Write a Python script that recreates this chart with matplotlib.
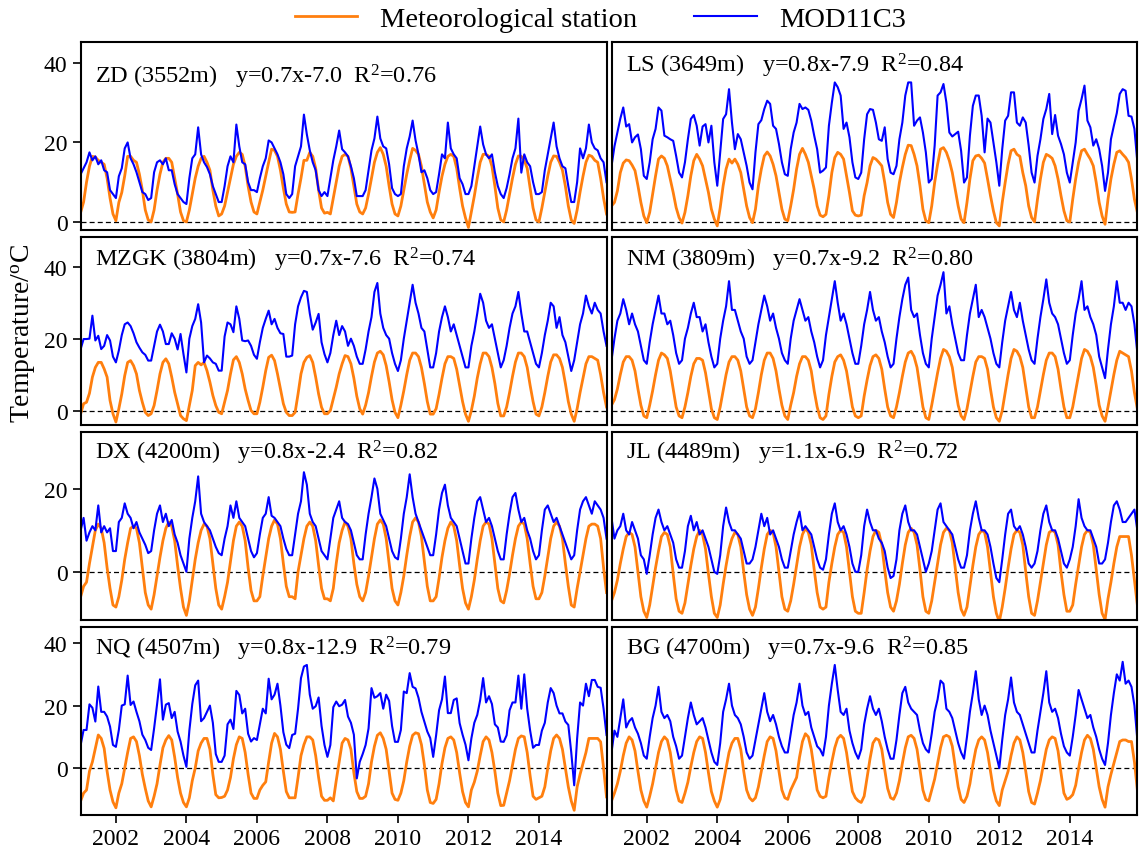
#-----------------------------------------------------------------#
# Monthly air temperature: station vs MOD11C3, 8 stations
#-----------------------------------------------------------------#

# Loading libraries
import numpy as np
import matplotlib
matplotlib.use("Agg")
import matplotlib.pyplot as plt

plt.rcParams['font.family'] = ['Liberation Serif', 'DejaVu Serif']
plt.rcParams['mathtext.fontset'] = 'custom'
plt.rcParams['mathtext.rm'] = 'Liberation Serif'
plt.rcParams['mathtext.it'] = 'Liberation Serif:italic'

# Monthly values, Jan 2001 - Dec 2015 (one row per year)
zd_station = [
    2.4, 5.0, 10.0, 14.0, 16.5, 16.3, 15.5, 15.0, 14.5, 11.0, 6.0, 2.0,
    0.3, 4.9, 7.4, 11.6, 16.5, 16.5, 15.5, 15.0, 12.0, 8.0, 3.0, 0.5,
    0.0, 3.0, 8.0, 12.0, 15.0, 16.0, 16.0, 15.0, 11.0, 7.0, 2.5, 0.3,
    0.0, 3.0, 7.0, 11.0, 14.0, 16.0, 16.5, 15.0, 13.0, 8.0, 4.0, 1.5,
    2.0, 4.0, 7.5, 11.0, 14.5, 16.5, 17.5, 17.0, 14.0, 9.0, 5.0, 2.5,
    2.0, 5.0, 8.0, 11.5, 15.0, 18.3, 18.0, 16.5, 13.0, 8.5, 4.5, 2.5,
    2.4, 2.5, 7.0, 11.0, 15.5, 15.5, 17.5, 16.5, 13.5, 8.0, 3.5, 2.2,
    2.4, 2.0, 6.0, 10.0, 14.0, 16.5, 17.0, 16.5, 13.5, 9.0, 4.5, 2.5,
    2.0, 3.5, 7.0, 11.0, 15.0, 17.5, 18.7, 17.0, 14.0, 9.0, 4.5, 2.0,
    1.5, 4.0, 8.0, 12.0, 15.5, 18.5, 18.0, 17.0, 14.0, 9.5, 5.0, 2.5,
    1.0, 3.0, 7.5, 11.5, 14.5, 16.5, 17.0, 16.5, 13.5, 8.5, 4.0, 1.0,
    -1.4, 2.5, 6.5, 11.0, 15.0, 17.0, 17.0, 16.5, 14.0, 9.0, 3.5, 0.5,
    0.0, 3.0, 7.0, 11.0, 14.5, 16.6, 16.5, 15.5, 13.5, 8.5, 3.5, 0.5,
    0.0, 3.5, 7.5, 11.5, 15.0, 16.6, 16.5, 15.0, 13.0, 9.0, 4.0, 0.5,
    -0.4, 3.0, 7.5, 11.5, 15.0, 16.8, 16.5, 15.5, 15.0, 11.0, 6.0, 2.0,
]
zd_modis = [
    12.0, 13.5, 15.0, 17.5, 15.5, 16.5, 14.5, 15.5, 13.0, 12.5, 8.0, 7.0,
    6.0, 11.5, 13.5, 18.5, 20.0, 16.0, 14.5, 12.5, 10.0, 7.5, 7.0, 5.5,
    6.0, 12.5, 15.0, 15.5, 14.5, 16.0, 13.0, 13.0, 9.5, 7.0, 6.0, 5.0,
    4.5, 11.0, 16.0, 17.0, 23.8, 17.0, 15.0, 13.8, 12.0, 9.0, 7.0, 5.0,
    5.0, 9.0, 14.0, 16.5, 15.0, 24.5, 19.0, 15.0, 14.5, 10.0, 8.0, 8.0,
    7.5, 11.0, 14.0, 16.0, 20.5, 20.0, 18.5, 17.0, 15.0, 12.0, 7.0, 6.0,
    7.0, 14.0, 16.5, 19.0, 27.0, 22.0, 18.0, 15.0, 13.0, 8.0, 6.5, 7.5,
    6.5, 11.0, 15.5, 19.0, 23.0, 18.3, 17.5, 16.5, 14.0, 11.0, 6.5, 6.5,
    6.5, 8.0, 13.0, 18.0, 21.0, 26.5, 21.0, 19.0, 18.5, 14.5, 8.5, 7.0,
    6.5, 7.0, 14.0, 18.5, 21.5, 25.5, 20.5, 17.0, 12.5, 13.0, 11.0, 8.0,
    7.0, 7.5, 12.0, 17.0, 16.0, 25.0, 18.5, 17.0, 16.0, 11.0, 9.5, 7.0,
    7.0, 9.0, 14.0, 19.0, 24.0, 19.5, 17.0, 16.0, 17.0, 12.5, 9.0, 7.0,
    6.0, 8.5, 12.0, 16.0, 18.5, 26.0, 12.4, 17.0, 15.0, 14.0, 10.0, 7.0,
    7.0, 7.5, 13.0, 17.0, 21.0, 25.0, 19.0, 16.0, 14.0, 13.5, 9.0, 5.0,
    5.0, 10.0, 18.5, 16.0, 18.5, 24.5, 20.0, 18.5, 18.0, 16.0, 15.0, 10.0,
]
ls_station = [
    4.0, 4.9, 7.8, 12.4, 14.8, 15.6, 15.4, 14.3, 12.9, 9.1, 4.9, 1.5,
    -0.2, 2.4, 7.0, 11.6, 15.8, 16.6, 16.0, 14.1, 10.8, 7.4, 3.6, 1.1,
    -0.3, 2.4, 6.6, 11.6, 15.4, 17.0, 15.8, 14.1, 10.8, 7.4, 3.2, 0.7,
    -1.0, 3.6, 9.1, 13.3, 15.8, 14.8, 15.8, 14.5, 12.4, 8.2, 4.0, 1.1,
    -0.2, 3.2, 9.1, 13.3, 16.6, 17.6, 16.6, 14.5, 11.6, 7.4, 3.2, 0.7,
    0.3, 4.0, 8.2, 13.3, 17.0, 18.5, 17.0, 15.0, 11.6, 8.2, 4.0, 1.7,
    1.3, 1.9, 6.6, 12.4, 16.2, 17.5, 17.0, 15.8, 11.6, 7.4, 2.8, 1.7,
    1.5, 1.7, 6.6, 9.9, 14.1, 16.2, 15.8, 15.0, 14.1, 9.9, 4.9, 1.9,
    1.1, 4.9, 9.9, 13.7, 17.0, 19.3, 19.2, 17.0, 14.1, 9.1, 3.2, 0.3,
    -0.2, 4.0, 9.9, 14.5, 18.3, 18.7, 17.5, 15.4, 12.4, 8.2, 4.0, 0.7,
    -0.2, 4.9, 10.8, 15.4, 16.6, 16.8, 16.0, 14.8, 10.8, 6.6, 2.8, -0.2,
    -1.0, 4.9, 9.9, 14.5, 17.9, 18.3, 17.0, 16.5, 12.4, 9.1, 4.0, 1.1,
    0.0, 5.7, 10.8, 15.0, 17.0, 16.6, 16.0, 14.1, 10.8, 6.6, 2.8, 0.3,
    0.0, 5.7, 10.8, 15.0, 17.9, 18.3, 17.0, 15.8, 14.1, 9.9, 4.9, 1.5,
    -0.6, 5.7, 10.8, 14.5, 17.5, 17.9, 17.0, 16.2, 15.0, 10.8, 5.7, 2.4,
]
ls_modis = [
    14.0, 19.0, 22.5, 26.0, 28.8, 24.0, 24.6, 20.0, 21.3, 22.0, 18.3, 11.6,
    10.8, 15.0, 20.8, 23.4, 28.8, 28.0, 21.7, 21.3, 20.8, 20.4, 16.6, 12.4,
    11.2, 15.0, 20.8, 25.9, 26.9, 24.2, 19.2, 24.0, 24.6, 20.0, 24.2, 15.0,
    9.1, 17.5, 25.9, 27.1, 33.4, 25.0, 18.3, 22.1, 20.8, 17.5, 14.1, 9.9,
    8.2, 17.5, 24.6, 25.6, 28.4, 30.5, 29.7, 24.2, 23.4, 19.6, 15.0, 12.0,
    11.6, 18.3, 22.5, 25.0, 29.7, 28.4, 28.8, 28.2, 25.5, 21.7, 18.3, 12.4,
    12.9, 13.7, 24.2, 30.0, 35.1, 33.9, 31.8, 23.4, 25.0, 21.3, 15.0, 11.2,
    10.8, 12.4, 20.8, 27.1, 28.4, 28.2, 25.0, 20.8, 20.4, 23.8, 15.8, 12.4,
    12.0, 14.1, 20.8, 25.0, 31.8, 35.1, 35.1, 24.2, 25.5, 26.3, 22.5, 17.5,
    9.9, 10.8, 19.2, 31.8, 32.6, 34.7, 30.0, 22.5, 21.5, 22.1, 22.7, 17.9,
    9.9, 11.2, 21.7, 29.2, 31.8, 31.8, 26.7, 17.5, 26.0, 25.0, 20.0, 15.0,
    9.1, 18.3, 25.5, 26.7, 32.6, 32.6, 25.0, 24.2, 26.3, 25.0, 19.2, 12.4,
    9.9, 16.6, 20.8, 25.9, 28.4, 32.2, 22.1, 26.9, 21.7, 19.6, 17.0, 12.4,
    9.9, 15.0, 20.0, 28.0, 30.9, 34.3, 25.5, 23.8, 19.2, 20.8, 18.3, 14.1,
    7.8, 12.4, 20.8, 24.2, 27.4, 32.2, 33.4, 33.0, 26.7, 26.5, 23.4, 15.0,
]
mzgk_station = [
    -0.9, 1.9, 2.3, 4.8, 9.3, 12.0, 13.4, 13.4, 11.6, 9.3, 2.8, -0.9,
    -3.2, 0.5, 4.6, 9.7, 13.4, 13.9, 12.5, 10.2, 5.6, 2.3, -0.5, -1.4,
    -0.9, 1.4, 5.6, 10.2, 13.4, 14.4, 13.0, 9.3, 5.1, 1.9, -1.4, -2.3,
    -2.8, 1.4, 5.6, 12.5, 13.4, 12.7, 13.4, 11.1, 7.9, 4.2, 1.4, -0.5,
    -0.9, 2.3, 5.6, 10.2, 14.1, 15.0, 13.4, 10.2, 6.0, 2.8, 0.0, -0.9,
    -0.9, 2.3, 6.5, 11.1, 14.8, 15.4, 13.9, 10.2, 6.0, 1.9, -0.5, -1.4,
    -1.4, -0.5, 4.6, 10.2, 13.4, 14.8, 15.3, 13.4, 9.3, 4.6, 0.9, -0.9,
    -0.9, 0.0, 3.2, 6.5, 10.2, 13.0, 15.3, 15.0, 13.0, 9.0, 4.0, 0.5,
    -1.0, 1.5, 5.0, 9.5, 13.5, 16.0, 16.5, 15.5, 12.5, 8.0, 3.0, -0.5,
    -2.0, 1.5, 5.5, 10.0, 14.0, 16.0, 16.0, 15.0, 12.0, 7.5, 2.5, -1.0,
    -1.0, 0.5, 4.5, 9.0, 13.0, 15.0, 15.0, 14.5, 11.5, 7.0, 2.5, -1.0,
    -3.0, 0.0, 4.0, 9.0, 13.0, 16.0, 16.0, 15.0, 12.0, 7.5, 2.0, -1.5,
    -1.5, 1.0, 5.0, 9.5, 13.5, 16.0, 16.0, 15.0, 12.0, 7.0, 2.5, -1.0,
    -1.5, 1.0, 5.0, 9.5, 13.5, 15.5, 15.5, 14.5, 12.0, 7.5, 2.5, -1.0,
    -3.0, 0.5, 5.0, 9.0, 13.0, 15.0, 15.0, 14.5, 14.0, 10.0, 5.0, 1.0,
]
mzgk_modis = [
    17.1, 19.9, 19.9, 20.0, 26.4, 19.5, 20.8, 17.1, 18.0, 21.0, 19.5, 15.0,
    13.4, 16.7, 21.0, 24.0, 24.5, 23.5, 21.5, 19.0, 17.5, 16.2, 15.5, 13.9,
    13.9, 18.0, 22.0, 23.9, 22.0, 18.5, 18.5, 21.5, 20.0, 17.0, 21.3, 15.7,
    10.6, 20.0, 23.5, 25.5, 29.6, 24.5, 13.4, 15.3, 14.5, 13.4, 13.0, 11.1,
    11.1, 20.6, 24.5, 24.0, 21.8, 29.0, 25.5, 19.5, 19.3, 19.5, 18.0, 15.5,
    14.4, 19.0, 23.0, 25.5, 27.8, 24.0, 25.5, 23.0, 21.5, 21.3, 15.0, 15.0,
    15.3, 24.0, 29.0, 31.5, 33.3, 33.0, 27.0, 22.5, 24.5, 26.9, 19.0, 15.7,
    13.4, 16.0, 21.0, 25.0, 21.0, 23.5, 22.0, 18.0, 20.0, 18.0, 15.0, 13.0,
    13.0, 17.0, 22.0, 26.0, 33.0, 35.5, 27.0, 23.0, 21.0, 20.0, 16.0, 13.0,
    11.0, 14.0, 20.0, 25.0, 30.0, 35.0, 30.0, 27.0, 23.0, 22.0, 17.0, 12.0,
    12.0, 16.0, 22.0, 26.0, 29.0, 26.0, 22.0, 24.0, 21.0, 18.0, 15.0, 12.0,
    12.0, 18.0, 22.0, 27.0, 32.5, 30.0, 25.0, 23.0, 24.0, 20.0, 16.0, 12.0,
    14.0, 18.0, 23.0, 27.0, 29.0, 33.0, 27.0, 22.0, 22.0, 19.0, 16.0, 13.0,
    12.0, 16.0, 21.0, 25.0, 30.0, 29.0, 23.0, 26.0, 21.0, 19.0, 15.0, 11.0,
    14.0, 19.0, 24.0, 27.0, 32.0, 29.0, 27.0, 30.0, 28.0, 27.0, 22.0, 18.0,
]
nm_station = [
    1.5, 3.0, 6.0, 10.0, 13.5, 15.0, 15.0, 14.0, 11.0, 6.0, 1.5, -1.5,
    -2.0, 1.5, 5.5, 10.0, 14.0, 16.0, 15.5, 14.5, 11.0, 6.0, 1.0, -1.5,
    -2.0, 1.0, 5.0, 9.5, 13.0, 14.5, 14.5, 14.0, 10.5, 5.5, 0.5, -2.0,
    -2.5, 1.0, 5.5, 10.0, 13.5, 15.0, 15.0, 14.0, 11.0, 6.0, 1.0, -1.5,
    -2.0, 0.5, 5.0, 10.0, 14.0, 16.0, 16.0, 14.5, 11.0, 6.0, 1.5, -1.5,
    -2.5, 1.5, 5.0, 9.5, 13.0, 15.0, 15.0, 14.0, 11.0, 5.5, 1.0, -2.0,
    -2.5, -1.5, 4.5, 9.5, 13.5, 15.0, 15.5, 14.0, 11.0, 6.0, 1.0, -1.5,
    -2.0, -1.5, 4.0, 8.5, 12.5, 15.0, 15.5, 14.5, 11.5, 6.0, 1.0, -1.5,
    -2.0, 1.0, 5.0, 9.5, 13.5, 16.0, 16.5, 15.0, 12.0, 6.5, 1.0, -2.0,
    -2.5, 1.5, 6.0, 10.5, 14.5, 17.0, 16.5, 15.0, 12.0, 6.5, 1.5, -1.5,
    -2.5, 0.5, 5.0, 9.5, 13.5, 15.0, 15.0, 14.5, 11.5, 6.0, 1.0, -2.0,
    -3.0, 0.0, 5.0, 10.0, 14.5, 17.0, 16.5, 15.0, 12.0, 6.5, 1.0, -2.0,
    -2.0, 1.0, 5.5, 10.0, 14.0, 16.0, 16.0, 15.0, 11.5, 6.0, 1.0, -2.0,
    -2.0, 1.0, 5.5, 10.0, 14.5, 17.0, 16.5, 15.0, 12.0, 7.0, 1.5, -1.5,
    -3.0, 1.0, 5.5, 10.0, 14.0, 16.5, 16.0, 15.5, 15.0, 11.0, 5.0, 0.5,
]
nm_modis = [
    14.0, 20.0, 25.0, 27.0, 31.0, 28.0, 24.0, 27.0, 24.0, 22.0, 18.0, 14.0,
    13.0, 19.0, 24.0, 28.0, 32.0, 27.0, 27.0, 24.0, 25.0, 21.0, 16.0, 13.0,
    14.0, 20.0, 23.0, 27.0, 30.0, 26.0, 26.0, 22.0, 24.0, 19.0, 15.0, 12.0,
    13.0, 20.0, 25.0, 29.0, 36.0, 28.0, 28.0, 25.0, 22.0, 20.0, 15.0, 13.0,
    14.0, 19.0, 24.0, 28.0, 32.0, 29.0, 25.0, 27.0, 23.0, 20.0, 16.0, 14.0,
    13.0, 20.0, 25.0, 28.0, 31.0, 28.0, 25.0, 26.0, 22.0, 19.0, 15.0, 12.0,
    14.0, 21.0, 26.0, 31.0, 36.0, 30.0, 25.0, 27.0, 24.0, 20.0, 16.0, 13.0,
    13.0, 18.0, 24.0, 28.0, 33.0, 28.0, 25.0, 26.0, 22.0, 19.0, 15.0, 12.0,
    13.0, 20.0, 26.0, 31.0, 35.0, 37.0, 28.0, 26.0, 27.0, 21.0, 16.0, 13.0,
    12.0, 20.0, 26.0, 32.0, 35.0, 38.5, 27.0, 29.0, 24.0, 20.0, 16.0, 14.0,
    14.0, 21.0, 27.0, 31.0, 35.0, 26.0, 28.0, 26.0, 23.0, 20.0, 16.0, 13.0,
    12.0, 19.0, 25.0, 29.0, 33.0, 28.0, 26.0, 30.0, 25.0, 21.0, 17.0, 14.0,
    13.0, 20.0, 26.0, 31.0, 36.5, 30.0, 27.0, 26.0, 24.0, 20.0, 16.0, 13.0,
    14.0, 21.0, 27.0, 31.0, 36.0, 28.0, 29.0, 26.0, 24.0, 21.0, 15.0, 12.0,
    9.0, 17.0, 24.0, 29.0, 36.0, 30.0, 30.0, 28.0, 30.0, 29.0, 24.0, 16.0,
]
dx_station = [
    -6.0, -3.5, -2.5, 2.0, 6.0, 10.0, 11.5, 10.5, 7.0, 1.0, -4.0, -8.0,
    -8.5, -6.0, -2.0, 3.0, 7.0, 10.5, 11.0, 10.5, 7.0, 1.0, -5.0, -8.0,
    -9.0, -5.5, -1.0, 3.5, 7.5, 10.5, 12.0, 11.0, 7.5, 1.5, -4.0, -8.5,
    -10.5, -7.0, -2.0, 3.0, 7.0, 10.0, 11.5, 11.0, 8.0, 2.0, -4.0, -8.0,
    -9.0, -6.0, -2.5, 2.5, 7.5, 11.0, 12.0, 11.0, 7.5, 1.0, -4.5, -7.0,
    -7.0, -6.0, -1.0, 3.5, 8.0, 11.0, 12.5, 11.5, 8.0, 2.0, -3.5, -6.0,
    -6.0, -6.5, 0.0, 4.0, 8.0, 11.0, 12.0, 11.0, 7.5, 1.5, -4.0, -6.5,
    -6.5, -7.0, -4.0, 2.0, 7.0, 10.0, 12.0, 11.0, 8.0, 2.0, -3.0, -6.0,
    -7.0, -5.0, -1.0, 3.5, 8.0, 11.5, 12.5, 11.5, 8.0, 2.0, -4.0, -7.0,
    -8.0, -5.0, -1.0, 4.0, 8.5, 12.0, 13.0, 12.0, 8.5, 2.5, -3.5, -7.0,
    -7.0, -6.0, -1.5, 3.5, 7.5, 10.5, 12.0, 11.0, 7.5, 1.5, -4.0, -7.5,
    -9.0, -6.0, -2.0, 3.0, 7.5, 11.0, 12.0, 11.5, 8.0, 2.0, -4.0, -7.0,
    -7.5, -4.5, -0.5, 4.0, 8.0, 11.0, 12.0, 11.5, 8.0, 2.0, -3.5, -6.5,
    -6.5, -5.0, -1.0, 3.5, 8.0, 11.0, 12.0, 11.0, 8.0, 2.0, -3.5, -8.0,
    -8.5, -4.0, 0.0, 4.0, 8.0, 11.0, 11.5, 11.5, 11.0, 8.0, 1.0, -5.0,
]
dx_modis = [
    10.0, 13.0, 7.5, 9.5, 11.0, 10.0, 16.0, 9.5, 11.0, 9.5, 10.5, 5.0,
    5.0, 12.0, 13.0, 16.5, 14.0, 13.0, 10.5, 12.0, 9.5, 8.0, 6.5, 4.5,
    5.0, 10.0, 14.0, 16.0, 12.0, 14.0, 11.0, 12.5, 9.0, 7.0, 4.0, 2.0,
    0.0, 8.0, 13.0, 17.0, 23.0, 14.0, 12.0, 11.0, 10.0, 8.0, 6.0, 4.5,
    4.0, 8.0, 11.0, 16.0, 13.0, 17.0, 13.0, 12.0, 11.0, 8.0, 5.0, 3.5,
    4.5, 9.0, 13.0, 14.0, 18.0, 13.5, 13.0, 12.0, 11.0, 8.0, 5.5, 4.0,
    4.0, 9.0, 14.0, 17.0, 24.0, 21.0, 14.0, 12.0, 11.0, 8.0, 5.0, 4.0,
    3.0, 8.0, 13.0, 15.0, 17.0, 13.0, 12.0, 11.5, 10.0, 7.0, 4.0, 3.0,
    3.0, 9.0, 14.0, 18.0, 22.5, 20.0, 14.0, 12.5, 11.0, 8.0, 5.0, 3.5,
    3.0, 8.0, 14.0, 18.0, 23.5, 18.0, 14.0, 12.0, 10.0, 8.0, 6.0, 4.0,
    4.0, 9.0, 15.0, 19.0, 21.0, 16.0, 13.0, 12.0, 11.0, 8.0, 5.0, 2.0,
    2.0, 8.0, 13.0, 17.0, 18.0, 15.0, 12.0, 13.0, 11.0, 8.0, 5.0, 3.0,
    3.0, 9.0, 14.0, 18.0, 19.0, 15.0, 12.0, 13.0, 10.0, 8.0, 5.0, 3.0,
    4.0, 10.0, 15.0, 16.0, 14.0, 12.0, 13.0, 11.0, 9.0, 7.0, 5.0, 3.0,
    4.0, 10.0, 15.0, 17.0, 18.0, 16.0, 14.0, 17.0, 16.0, 15.0, 13.0, 8.0,
]
jl_station = [
    -7.0, -5.0, -2.0, 2.0, 5.5, 8.5, 9.5, 9.0, 6.0, 0.0, -6.0, -9.5,
    -11.0, -8.0, -3.5, 1.0, 5.0, 8.5, 9.5, 9.0, 6.0, -0.5, -6.5, -9.5,
    -10.0, -7.5, -3.0, 1.5, 5.5, 8.5, 10.0, 9.0, 5.5, -0.5, -6.0, -10.0,
    -11.0, -8.0, -3.0, 1.5, 5.5, 8.0, 9.5, 9.0, 6.0, 0.0, -5.5, -9.0,
    -10.5, -8.5, -4.0, 1.0, 5.5, 9.0, 10.0, 9.5, 6.0, 0.0, -6.0, -9.0,
    -9.5, -7.0, -3.0, 1.5, 6.0, 9.0, 10.5, 9.5, 6.5, 0.5, -5.0, -8.5,
    -9.0, -8.5, -2.5, 2.0, 6.0, 9.0, 10.0, 9.5, 6.0, 0.0, -6.0, -9.5,
    -10.0, -10.0, -5.0, 0.5, 5.0, 8.5, 10.0, 9.5, 6.5, 0.5, -5.0, -8.5,
    -9.5, -7.0, -3.0, 2.0, 6.5, 9.5, 10.5, 9.5, 6.5, 0.5, -6.0, -9.5,
    -10.0, -7.0, -2.5, 2.0, 6.5, 9.5, 10.5, 10.0, 7.0, 1.0, -5.0, -9.0,
    -10.5, -8.5, -3.5, 1.5, 6.0, 9.0, 10.0, 9.5, 6.0, 0.0, -6.0, -10.0,
    -12.0, -8.5, -4.0, 1.0, 5.5, 9.0, 10.0, 9.5, 6.5, 0.0, -6.0, -10.0,
    -10.5, -7.0, -2.5, 2.0, 6.5, 9.5, 10.0, 9.5, 6.5, 0.0, -5.5, -9.5,
    -9.5, -8.0, -3.0, 1.5, 6.0, 9.0, 10.0, 9.5, 6.5, 0.5, -5.5, -10.0,
    -11.5, -6.5, -2.5, 2.0, 6.0, 8.5, 8.5, 8.5, 8.5, 4.0, -2.0, -8.0,
]
jl_modis = [
    13.0, 8.0, 10.0, 11.0, 14.0, 10.0, 9.0, 12.0, 10.0, 8.0, 4.0, 3.0,
    -0.5, 4.0, 9.0, 13.0, 15.0, 12.0, 10.0, 11.0, 9.0, 7.0, 3.0, 1.0,
    1.0, 5.0, 11.0, 13.5, 10.0, 12.0, 9.0, 10.0, 8.0, 6.0, 3.0, 0.0,
    -0.5, 4.0, 11.0, 15.5, 12.0, 10.0, 10.0, 9.0, 8.0, 5.0, 2.0, 2.0,
    3.0, 6.0, 10.0, 14.0, 11.0, 13.0, 9.0, 10.0, 8.0, 6.0, 3.0, 1.0,
    1.0, 5.0, 9.0, 12.0, 14.5, 10.0, 11.0, 10.0, 9.0, 6.0, 3.0, 1.0,
    0.5, 3.0, 9.0, 14.0, 16.5, 12.0, 10.0, 11.0, 9.0, 6.0, 2.0, 0.0,
    0.0, 4.0, 11.0, 15.0, 12.0, 10.0, 10.0, 8.0, 7.0, 5.0, 1.0, -1.5,
    -1.0, 3.0, 10.0, 14.0, 16.0, 12.0, 10.0, 10.0, 9.0, 6.0, 3.0, 0.0,
    2.0, 5.0, 10.0, 15.0, 16.5, 12.0, 11.0, 10.0, 9.0, 6.0, 3.0, 1.0,
    1.0, 4.0, 10.0, 14.0, 17.0, 13.0, 10.0, 10.0, 9.0, 6.0, 2.0, -1.5,
    -2.5, 3.0, 9.0, 14.0, 15.0, 11.0, 10.0, 11.0, 9.0, 6.0, 2.0, 1.0,
    2.0, 5.0, 10.0, 14.0, 16.0, 12.0, 10.0, 10.0, 8.0, 5.0, 2.0, 1.0,
    3.0, 6.0, 11.0, 17.5, 13.0, 11.0, 10.0, 10.0, 8.0, 6.0, 2.0, 2.0,
    3.0, 7.0, 12.0, 16.0, 17.0, 15.0, 12.0, 12.0, 13.0, 14.0, 15.0, 10.0,
]
nq_station = [
    -10.5, -8.0, -7.0, -1.0, 2.0, 6.3, 10.6, 9.5, 6.3, -1.0, -7.0, -10.8,
    -12.7, -8.0, -5.0, 0.0, 5.0, 9.5, 10.0, 8.5, 4.0, -2.0, -6.5, -10.5,
    -12.4, -9.0, -5.0, 1.0, 6.5, 9.0, 10.4, 9.0, 3.5, -3.0, -8.0, -11.0,
    -12.4, -9.5, -4.0, 0.0, 5.5, 8.0, 9.5, 9.5, 6.0, -2.0, -8.5, -9.5,
    -9.4, -9.0, -7.0, -3.0, 3.0, 7.5, 10.0, 9.5, 5.0, -2.0, -8.0, -9.7,
    -9.7, -7.0, -5.5, -4.4, 2.0, 8.0, 11.1, 10.0, 6.0, -1.0, -7.5, -9.5,
    -9.5, -9.5, -3.0, 4.0, 7.5, 10.0, 10.0, 9.0, 4.0, -3.0, -9.0, -10.3,
    -10.3, -9.5, -10.5, -4.0, 2.0, 8.0, 9.5, 9.0, 6.0, -1.5, -7.5, -9.7,
    -9.7, -9.0, -5.0, 2.0, 7.0, 10.5, 11.3, 9.5, 6.0, -1.0, -8.0, -10.0,
    -10.3, -8.0, -4.0, 2.0, 7.0, 10.5, 11.3, 11.0, 7.5, 1.0, -7.0, -11.0,
    -11.3, -10.0, -5.0, 1.5, 6.5, 9.5, 10.0, 9.0, 5.0, -1.5, -7.5, -11.0,
    -12.4, -7.0, -4.5, -1.0, 4.0, 8.5, 10.0, 9.0, 5.0, -1.0, -8.0, -12.0,
    -11.9, -8.0, -4.0, 1.0, 6.0, 9.5, 10.3, 10.0, 5.0, -2.5, -9.0, -10.0,
    -9.5, -9.0, -6.0, 0.0, 5.5, 9.5, 10.6, 9.5, 6.0, 0.0, -6.0, -10.5,
    -13.5, -6.0, -2.0, 1.5, 5.0, 9.5, 9.5, 9.5, 9.5, 8.4, 0.0, -9.2,
]
nq_modis = [
    7.4, 12.2, 12.2, 20.4, 19.3, 14.9, 26.1, 18.0, 18.0, 16.5, 13.3, 7.4,
    6.8, 12.2, 20.0, 20.4, 29.6, 20.2, 21.3, 18.0, 15.0, 10.7, 9.0, 6.5,
    5.8, 12.7, 20.3, 28.4, 15.5, 20.3, 20.8, 16.0, 18.0, 11.7, 8.5, 4.0,
    0.4, 12.0, 20.5, 26.5, 28.0, 15.0, 16.0, 18.0, 20.0, 14.5, 4.5, 2.0,
    2.0, 4.0, 14.0, 15.5, 12.5, 24.7, 23.4, 17.5, 19.0, 11.0, 8.5, 9.6,
    9.0, 14.0, 19.0, 17.5, 28.6, 22.0, 23.5, 27.0, 20.0, 11.5, 7.5, 6.4,
    10.6, 11.0, 19.0, 28.8, 32.5, 33.0, 23.5, 19.0, 19.8, 22.6, 13.5, 7.4,
    3.6, 7.4, 19.5, 21.3, 19.8, 20.3, 21.8, 16.5, 14.5, 10.7, -3.3, 2.0,
    4.5, 7.4, 12.7, 25.6, 22.5, 23.0, 24.0, 19.0, 23.5, 21.5, 13.5, 8.4,
    8.4, 12.2, 24.5, 24.0, 30.4, 26.0, 25.5, 22.5, 18.0, 14.9, 11.7, 9.6,
    3.6, 10.5, 18.5, 22.0, 29.3, 17.6, 17.6, 21.8, 22.3, 14.4, 10.7, 7.5,
    2.5, 9.5, 14.5, 17.0, 21.8, 28.8, 21.0, 23.0, 20.5, 14.0, 13.0, 8.5,
    8.4, 10.5, 18.5, 21.0, 21.0, 29.6, 19.0, 30.0, 19.0, 12.0, 6.5, 7.4,
    7.4, 12.0, 14.5, 21.0, 25.6, 24.0, 20.0, 17.5, 17.5, 14.9, 13.8, 5.0,
    -5.5, 9.5, 21.0, 20.0, 27.0, 23.0, 28.2, 28.2, 26.0, 25.7, 19.0, 10.6,
]
bg_station = [
    -10.5, -8.0, -5.0, -1.0, 4.0, 8.0, 10.0, 9.0, 5.5, -1.0, -7.0, -10.5,
    -12.5, -9.0, -5.0, 0.0, 5.0, 8.5, 10.0, 9.0, 5.0, -1.5, -7.0, -10.5,
    -11.0, -8.0, -4.5, 0.5, 5.0, 8.5, 10.0, 9.5, 5.0, -1.5, -7.5, -10.5,
    -12.5, -10.0, -5.0, 0.0, 5.0, 8.0, 9.5, 9.5, 6.0, -1.0, -7.0, -9.5,
    -10.5, -9.5, -6.0, -1.0, 4.0, 8.5, 10.0, 9.5, 5.5, -1.0, -7.0, -9.5,
    -10.0, -7.0, -5.0, -3.0, 3.5, 8.5, 11.0, 10.0, 6.0, -0.5, -7.0, -9.0,
    -9.5, -9.0, -3.0, 2.0, 6.5, 9.5, 10.5, 9.5, 5.0, -1.5, -7.5, -9.5,
    -10.5, -11.0, -9.0, -3.0, 3.0, 8.0, 9.5, 9.0, 6.0, -0.5, -6.5, -9.5,
    -10.0, -8.0, -4.0, 1.5, 6.5, 10.0, 10.5, 9.5, 6.0, -0.5, -7.0, -10.0,
    -10.5, -7.0, -3.5, 1.5, 6.5, 10.0, 10.5, 10.0, 7.0, 0.5, -6.0, -10.0,
    -11.0, -9.0, -5.0, 1.0, 6.0, 9.0, 10.0, 9.0, 5.0, -1.0, -7.0, -10.5,
    -12.0, -7.0, -4.0, -1.0, 4.0, 8.0, 10.0, 9.0, 5.0, -1.0, -7.5, -11.0,
    -11.5, -8.0, -4.0, 1.0, 6.0, 9.0, 10.0, 9.5, 5.5, -1.5, -8.0, -10.0,
    -9.5, -8.5, -5.5, 0.0, 5.0, 9.0, 10.5, 9.5, 6.0, 0.0, -6.0, -10.0,
    -12.5, -6.0, -2.0, 1.5, 5.0, 8.5, 9.0, 9.0, 8.5, 8.5, 2.0, -7.0,
]
bg_modis = [
    5.0, 12.0, 10.0, 16.0, 22.0, 13.0, 15.0, 16.0, 13.0, 11.0, 8.0, 4.0,
    3.0, 10.0, 16.0, 20.0, 26.0, 18.0, 16.0, 17.0, 15.0, 10.0, 7.0, 3.0,
    4.0, 10.0, 16.0, 21.0, 17.0, 14.0, 15.0, 16.0, 13.0, 9.0, 5.0, 2.0,
    1.0, 8.0, 18.0, 22.0, 27.0, 20.0, 17.0, 16.0, 14.0, 10.0, 5.0, 3.0,
    4.0, 9.0, 14.0, 19.0, 24.0, 18.0, 15.0, 17.0, 14.0, 10.0, 7.0, 5.0,
    5.0, 11.0, 17.0, 21.0, 27.0, 20.0, 17.0, 18.0, 13.0, 10.0, 7.0, 6.0,
    4.0, 10.0, 20.0, 27.0, 33.0, 25.0, 18.0, 17.0, 19.0, 12.0, 8.0, 5.0,
    3.0, 6.0, 14.0, 19.0, 23.0, 19.0, 17.0, 19.0, 15.0, 10.0, 6.0, 3.0,
    3.0, 9.0, 17.0, 24.0, 26.0, 21.0, 19.0, 18.0, 17.0, 12.0, 8.0, 6.0,
    5.0, 11.0, 18.0, 22.0, 28.0, 27.0, 19.0, 18.0, 16.0, 12.0, 8.0, 5.0,
    3.0, 10.0, 18.0, 24.0, 31.0, 22.0, 17.0, 20.0, 17.0, 12.0, 8.0, 4.0,
    0.0, 9.0, 17.0, 22.0, 29.0, 21.0, 18.0, 17.0, 14.0, 11.0, 8.0, 5.0,
    5.0, 12.0, 18.0, 24.0, 31.0, 21.0, 18.0, 19.0, 16.0, 11.0, 7.0, 5.0,
    4.0, 10.0, 17.0, 25.0, 22.0, 19.0, 16.0, 17.0, 13.0, 10.0, 6.0, 3.0,
    1.0, 8.0, 17.0, 24.0, 30.0, 28.0, 34.0, 27.0, 28.0, 26.0, 20.0, 9.0,
]

# Station names, elevation and fitted relation shown in each panel
names = ['ZD', 'LS', 'MZGK', 'NM', 'DX', 'JL', 'NQ', 'BG']
elevations = [3552, 3649, 3804, 3809, 4200, 4489, 4507, 4700]
fits = ['y=0.7x-7.0', 'y=0.8x-7.9', 'y=0.7x-7.6', 'y=0.7x-9.2',
        'y=0.8x-2.4', 'y=1.1x-6.9', 'y=0.8x-12.9', 'y=0.7x-9.6']
r2 = ['0.76', '0.84', '0.74', '0.80', '0.82', '0.72', '0.79', '0.85']
station_series = [zd_station, ls_station, mzgk_station, nm_station,
                  dx_station, jl_station, nq_station, bg_station]
modis_series = [zd_modis, ls_modis, mzgk_modis, nm_modis,
                dx_modis, jl_modis, nq_modis, bg_modis]

# y range / ticks of each row, and height of the label text
row_ylim = [(-2, 45.2), (-4, 48.2), (-11.6, 33.6), (-15, 45)]
row_yticks = [[0, 20, 40], [0, 20, 40], [0, 20], [0, 20, 40]]
label_y = [36.8, 39.5, 42.1, 42.1, 29.0, 29.0, 38.4, 38.4]

# Time axis (decimal year, monthly)
t = 2001 + np.arange(180) / 12.0

fig, axes = plt.subplots(4, 2, figsize=(11.44, 8.54), dpi=100,
                         sharex=True, sharey='row',
                         gridspec_kw=dict(hspace=0.04, wspace=0.0095))
fig.subplots_adjust(left=0.0705, right=0.9942, top=0.9493, bottom=0.0445)

for i, ax in enumerate(axes.flat):
    row, col = divmod(i, 2)
    ax.axhline(0, color='k', ls='--', lw=0.9, dashes=(4, 2.5))
    l1, = ax.plot(t, station_series[i], color='#ff7f0e', lw=2.0)
    l2, = ax.plot(t, modis_series[i], color='#0000ff', lw=1.5)
    ax.set_ylim(*row_ylim[row])
    ax.set_yticks(row_yticks[row])
    ax.set_xlim(2001, t[-1])
    ax.set_xticks(range(2002, 2015, 2))
    for s in ax.spines.values():
        s.set_linewidth(1.5)
    ax.tick_params(direction='out', length=6, width=1.2, labelsize=17)
    if col == 1:
        ax.tick_params(left=False, labelleft=False)
    if row < 3:
        ax.tick_params(bottom=False, labelbottom=False)
    ax.text(0.028, label_y[i],
            '%s (%dm)   %s  R$^2$=%s' % (names[i], elevations[i], fits[i], r2[i]),
            transform=ax.get_yaxis_transform(), fontsize=17.5, va='center')

fig.text(0.021, 0.61, 'Temperature/$\\mathregular{^o}$C', rotation=90,
         ha='center', va='center', fontsize=20)
fig.legend([l1, l2], ['Meteorological station', 'MOD11C3'],
           loc='center', bbox_to_anchor=(0.525, 0.976), ncol=2,
           frameon=False, fontsize=20.5, handlelength=2.2,
           handletextpad=0.8, columnspacing=2.0)

fig.savefig('out.png', dpi=100)
